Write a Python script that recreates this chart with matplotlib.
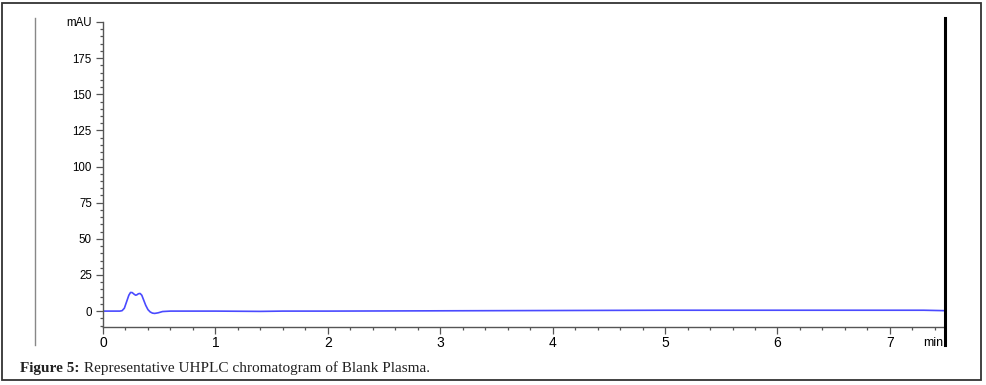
import matplotlib.pyplot as plt
import numpy as np
from matplotlib.lines import Line2D
from matplotlib.patches import Rectangle
from matplotlib.ticker import MultipleLocator

# chromatogram trace (min, mAU)
time_min = [0.0, 0.10, 0.15, 0.17, 0.19, 0.21, 0.23, 0.245, 0.26, 0.275, 0.29,
            0.30, 0.315, 0.33, 0.345, 0.36, 0.38, 0.40, 0.42, 0.44, 0.46, 0.49,
            0.53, 0.60, 1.0, 1.4, 1.6, 2.0, 2.5, 3.0, 3.5, 4.0, 4.5, 5.0, 6.0,
            7.0, 7.3, 7.49]
absorb_mau = [0.0, 0.0, 0.0, 0.3, 2.0, 6.5, 11.0, 12.9, 12.8, 11.8, 11.0,
              11.2, 12.0, 12.2, 11.0, 8.0, 4.0, 1.0, -0.6, -1.4, -1.6, -1.2,
              -0.3, 0.0, 0.0, -0.2, 0.0, 0.0, 0.1, 0.2, 0.3, 0.4, 0.5, 0.6, 0.6,
              0.6, 0.6, 0.3]

y_ticks = [0, 25, 50, 75, 100, 125, 150, 175, 200]
y_labels = ['0', '25', '50', '75', '100', '125', '150', '175', 'mAU']
x_ticks = [0, 1, 2, 3, 4, 5, 6, 7]
x_labels = ['0', '1', '2', '3', '4', '5', '6', '7']
x_unit = 'min'

axis_col = '#555555'

fig = plt.figure(figsize=(9.87, 3.85), dpi=100)
ax = fig.add_axes([103 / 987, 1 - 327 / 385, (945 - 103) / 987, (327 - 22) / 385])

ax.plot(time_min, absorb_mau, color='#4a4aff', lw=1.2)
ax.set_xlim(0, 7.49)
ax.set_ylim(-11, 200)

for s in ['top', 'right']:
    ax.spines[s].set_visible(False)
for s in ['left', 'bottom']:
    ax.spines[s].set_linewidth(1.0)
    ax.spines[s].set_color(axis_col)

ax.set_yticks(y_ticks)
ax.set_yticklabels(y_labels, fontsize=8.3, family='Liberation Sans')
ax.set_xticks(x_ticks)
ax.set_xticklabels(x_labels, fontsize=10, family='Liberation Sans')
ax.yaxis.set_minor_locator(MultipleLocator(5))
ax.xaxis.set_minor_locator(MultipleLocator(0.2))
ax.tick_params(axis='both', which='major', length=5, width=0.9, pad=1.5,
               color=axis_col)
ax.tick_params(axis='y', which='major', pad=3)
ax.tick_params(axis='both', which='minor', length=2.5, width=0.9, color=axis_col)

# unit label at the right end of the time axis
ax.annotate(x_unit, xy=(1, 0), xycoords='axes fraction', xytext=(-1, -7.5),
            textcoords='offset points', ha='right', va='top', fontsize=9,
            family='Liberation Sans')

# vertical marker lines
fig.add_artist(Line2D([35 / 987, 35 / 987], [1 - 18 / 385, 1 - 345 / 385],
                      color='#888888', lw=1.0))
fig.add_artist(Line2D([945 / 987, 945 / 987], [1 - 18 / 385, 1 - 345 / 385],
                      color='black', lw=2.2))

# outer frame
fig.add_artist(Rectangle((2 / 987, 5 / 385), 979 / 987, 377 / 385,
                         fill=False, edgecolor='#333333', lw=1.3,
                         transform=fig.transFigure))

# caption
t1 = fig.text(20 / 987, 1 - 372 / 385, 'Figure 5:', fontsize=11,
              family='Liberation Serif', weight='bold', va='baseline',
              color='#222222')
ax.annotate(' Representative UHPLC chromatogram of Blank Plasma.',
            xy=(1, 0), xycoords=t1, va='bottom', fontsize=11,
            family='Liberation Serif', annotation_clip=False, color='#222222')

fig.savefig('out.png', dpi=100)
